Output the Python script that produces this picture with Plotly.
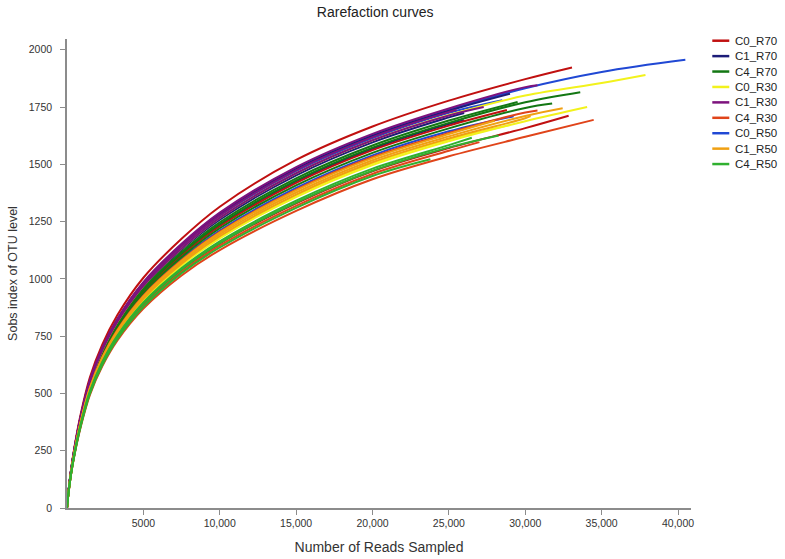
import plotly.graph_objects as go

# sampling depths shared by all curves (last point of each curve is its own end)
x_grid = [0, 100, 250, 500, 900, 1500, 2300, 3300, 5000, 7500, 10000, 15000, 20000, 25000, 30000, 35000]

groups = ['C0_R70', 'C1_R70', 'C4_R70', 'C0_R30', 'C1_R30', 'C4_R30', 'C0_R50', 'C1_R50', 'C4_R50']
colors = ['#c01010', '#1c1c78', '#137713', '#f2f21c', '#7d137d', '#e0441a', '#2048d4', '#f0a012', '#30b030']

# Sobs values, 3 replicates per group
c0_r70 = [[0, 75, 160, 270, 410, 570, 712, 842, 1005, 1175, 1315, 1519, 1665, 1778, 1872],
          [0, 67, 143, 240, 363, 505, 631, 748, 890, 1039, 1154, 1330, 1470, 1571, 1658],
          [0, 71, 151, 254, 385, 536, 669, 792, 944, 1103, 1230, 1419, 1562, 1669]]
c0_r70_end = [(33060, 1923), (32840, 1712), (28800, 1737)]

c1_r70 = [[0, 73, 156, 264, 400, 556, 695, 822, 981, 1146, 1281, 1479, 1624, 1734],
          [0, 72, 154, 260, 394, 547, 684, 809, 965, 1127, 1258, 1452, 1596, 1705],
          [0, 71, 152, 255, 387, 538, 672, 795, 948, 1108, 1236, 1426, 1568, 1676]]
c1_r70_end = [(29000, 1808), (26000, 1724), (26000, 1693)]

c4_r70 = [[0, 71, 152, 256, 388, 540, 674, 798, 951, 1111, 1239, 1430, 1573, 1681, 1771],
          [0, 70, 150, 253, 383, 532, 665, 787, 938, 1095, 1221, 1408, 1550, 1657, 1746],
          [0, 71, 153, 257, 390, 543, 678, 802, 956, 1117, 1247, 1439, 1582, 1691]]
c4_r70_end = [(33600, 1815), (31760, 1765), (29500, 1772)]

c0_r30 = [[0, 72, 155, 261, 396, 550, 687, 813, 970, 1133, 1266, 1461, 1605, 1715, 1800, 1855],
          [0, 68, 145, 244, 370, 515, 643, 761, 906, 1058, 1177, 1357, 1497, 1601, 1688],
          [0, 68, 146, 246, 372, 517, 646, 764, 911, 1063, 1183, 1364, 1504, 1608]]
c0_r30_end = [(37870, 1890), (34050, 1750), (29000, 1672)]

c1_r30 = [[0, 74, 157, 265, 402, 559, 699, 826, 986, 1153, 1289, 1488, 1633, 1744, 1837],
          [0, 72, 155, 261, 396, 550, 687, 813, 970, 1133, 1266, 1461, 1605, 1713],
          [0, 73, 156, 263, 399, 555, 693, 820, 978, 1143, 1277, 1475, 1619, 1729]]
c1_r30_end = [(30800, 1845), (27280, 1750), (25500, 1738)]

c4_r30 = [[0, 65, 140, 235, 355, 494, 617, 731, 870, 1015, 1126, 1297, 1435, 1535, 1620],
          [0, 66, 142, 239, 361, 502, 627, 742, 884, 1031, 1145, 1319, 1458, 1559],
          [0, 69, 148, 250, 378, 526, 657, 778, 927, 1082, 1205, 1390, 1532, 1637, 1726]]
c4_r30_end = [(34480, 1694), (27000, 1597), (30800, 1735)]

c0_r50 = [[0, 73, 157, 264, 401, 558, 697, 824, 983, 1149, 1285, 1483, 1628, 1739, 1832, 1903],
          [0, 70, 149, 251, 380, 528, 660, 781, 931, 1087, 1211, 1397, 1539, 1644],
          [0, 73, 156, 262, 398, 553, 691, 818, 975, 1140, 1273, 1470, 1614, 1725]]
c0_r50_end = [(40480, 1956), (29240, 1710), (28500, 1780)]

c1_r50 = [[0, 69, 147, 248, 375, 521, 651, 771, 919, 1073, 1194, 1377, 1518, 1622, 1711],
          [0, 68, 146, 246, 373, 518, 647, 767, 913, 1066, 1186, 1368, 1509, 1613, 1701],
          [0, 69, 148, 249, 377, 524, 655, 775, 924, 1079, 1202, 1386, 1527, 1632]]
c1_r50_end = [(32450, 1745), (30350, 1710), (28000, 1690)]

c4_r50 = [[0, 67, 143, 241, 364, 506, 632, 749, 892, 1041, 1156, 1333, 1472, 1574],
          [0, 66, 141, 237, 358, 499, 623, 738, 878, 1025, 1137, 1310, 1449],
          [0, 67, 144, 242, 366, 509, 636, 753, 897, 1047, 1164, 1341, 1481, 1584]]
c4_r50_end = [(28260, 1626), (23790, 1522), (26500, 1616)]

x_tickvals = [5000, 10000, 15000, 20000, 25000, 30000, 35000, 40000]
x_ticktext = ['5000', '10,000', '15,000', '20,000', '25,000', '30,000', '35,000', '40,000']
y_tickvals = [0, 250, 500, 750, 1000, 1250, 1500, 1750, 2000]

all_curves = dict(zip(groups, [c0_r70, c1_r70, c4_r70, c0_r30, c1_r30, c4_r30, c0_r50, c1_r50, c4_r50]))
all_ends = dict(zip(groups, [c0_r70_end, c1_r70_end, c4_r70_end, c0_r30_end, c1_r30_end, c4_r30_end,
                             c0_r50_end, c1_r50_end, c4_r50_end]))
group_color = dict(zip(groups, colors))

# drawing order: blue first so the purple band lies on top of it, as in the original
draw_order = ['C0_R50', 'C1_R70', 'C0_R70', 'C4_R70', 'C0_R30', 'C1_R30', 'C4_R30', 'C1_R50', 'C4_R50']

fig = go.Figure()

for name in draw_order:
    for ys, end in zip(all_curves[name], all_ends[name]):
        xs = x_grid[:len(ys)] + [end[0]]
        fig.add_trace(go.Scatter(
            x=xs, y=ys + [end[1]],
            mode='lines',
            line=dict(color=group_color[name], width=2, shape='spline', smoothing=1),
            name=name,
            showlegend=False,
        ))

# legend drawn by hand so the rows sit as tight as in the original
W, H = 785, 559
L, R, T, B = 66.5, 94.3, 39.3, 51.3
pw, ph = W - L - R, H - T - B
shapes, annotations = [], []
for i, (name, color) in enumerate(zip(groups, colors)):
    py = 41 + 15.4 * i
    yp = (H - B - py) / ph
    shapes.append(dict(type='line', xref='paper', yref='paper',
                       x0=(712 - L) / pw, x1=(729 - L) / pw, y0=yp, y1=yp,
                       line=dict(color=color, width=2.5)))
    annotations.append(dict(text=name, xref='paper', yref='paper', x=(733 - L) / pw, y=yp,
                            xanchor='left', yanchor='middle', showarrow=False,
                            font=dict(family='Arial, Liberation Sans', size=11.5, color='#222222')))

axis_font = dict(family='Arial, Liberation Sans', size=10.5, color='#333333')

fig.update_layout(
    width=W, height=H,
    paper_bgcolor='white', plot_bgcolor='white',
    margin=dict(l=L, r=R, t=T, b=B),
    showlegend=False,
    shapes=shapes, annotations=annotations,
    title=dict(text='Rarefaction curves', x=0.478, xanchor='center', y=0.978, yanchor='middle',
               font=dict(family='Arial, Liberation Sans', size=14, color='#222222')),
    xaxis=dict(range=[0, 40850], tickvals=x_tickvals, ticktext=x_ticktext, automargin=False,
               showgrid=False, zeroline=False, showline=True, linecolor='#8c8c8c', linewidth=1.5,
               ticks='outside', ticklen=5, tickcolor='#8c8c8c', tickfont=axis_font,
               title=dict(text='Number of Reads Sampled', standoff=14,
                          font=dict(family='Arial, Liberation Sans', size=14, color='#333333'))),
    yaxis=dict(range=[0, 2047], tickvals=y_tickvals, automargin=False,
               showgrid=False, zeroline=False, showline=True, linecolor='#8c8c8c', linewidth=1.5,
               ticks='outside', ticklen=5, tickcolor='#8c8c8c', tickfont=axis_font,
               ticklabelstandoff=6,
               title=dict(text='Sobs index of OTU level', standoff=8,
                          font=dict(family='Arial, Liberation Sans', size=12.5, color='#333333'))),
)

fig.write_html('out.html', config={'displayModeBar': False},
               post_script="document.body.style.margin='0';")
